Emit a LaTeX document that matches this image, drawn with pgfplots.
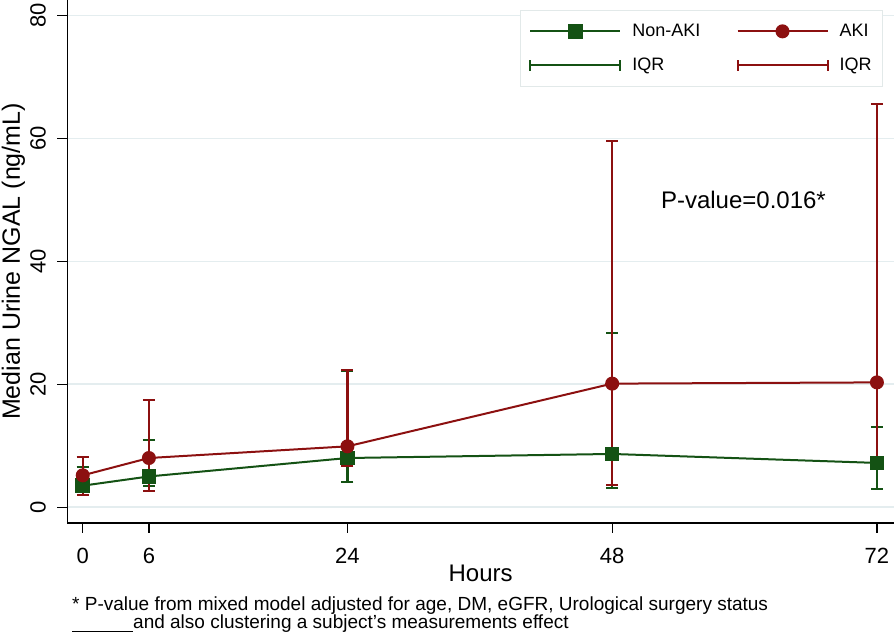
\documentclass[border=0pt]{standalone}
\usepackage{fontspec}
\setmainfont{Liberation Sans}
\usepackage{pgfplots}
\usepackage{pgfplotstable}
\pgfplotsset{compat=1.18}
\definecolor{mygreen}{HTML}{145214}
\definecolor{myred}{HTML}{8C1010}
\definecolor{gridc}{HTML}{E4EDEF}
\definecolor{legc}{HTML}{E2E9E9}
% hours, median, q3-median, median-q1
\pgfplotstableread{
x  y     ep     em
0  3.5   2.98   1.0
6  5.0   5.9    1.6
24 8.0   14.2   3.95
48 8.66  19.64  5.53
72 7.2   5.8    4.24
}\nonaki
\pgfplotstableread{
x  y     ep     em
0  5.18  3.0    3.14
6  8.0   9.5    5.43
24 9.9   12.4   3.15
48 20.1  39.4   16.55
72 20.3  45.3   13.9
}\aki
\begin{document}
\begin{tikzpicture}
\useasboundingbox (-67.3pt,-113pt) rectangle (826.7pt,523pt);
\begin{axis}[
  scale only axis, width=826.7pt, height=523pt,
  at={(0pt,0pt)}, anchor=south west,
  xmin=-1.4, xmax=73.55, ymin=-2.57, ymax=82.5,
  axis x line*=bottom, axis y line*=left,
  axis line style={line width=1.3pt, black, -},
  xtick={0,6,24,48,72}, ytick={0,20,40,60,80},
  tick align=outside, major tick length=10pt,
  tick style={line width=1.3pt, black},
  /pgf/number format/assume math mode=true,
  ticklabel style={font=\fontsize{22pt}{26pt}\selectfont},
  xticklabel style={yshift=-12pt},
  yticklabel style={rotate=90, anchor=south, yshift=8pt},
  ymajorgrids, major grid style={gridc, line width=1.5pt},
  xlabel={Hours}, ylabel={Median Urine NGAL (ng/mL)},
  every axis x label/.style={at={(axis description cs:0.5,0)}, anchor=base, yshift=-59pt, font=\fontsize{24pt}{28pt}\selectfont},
  every axis y label/.style={at={(axis description cs:0,0.5)}, anchor=center, xshift=-54pt, rotate=90, font=\fontsize{25pt}{30pt}\selectfont},
  legend columns=2, transpose legend,
  legend style={at={(0.9867,0.981)}, anchor=north east, draw=legc, line width=1pt,
    font=\fontsize{18pt}{22pt}\selectfont, inner xsep=9pt, inner ysep=12pt,
    row sep=16pt,
    /tikz/every odd column/.append style={column sep=9pt},
    /tikz/every even column/.append style={column sep=34pt}},
  legend cell align=left,
]
% Non-AKI median
\addplot[mygreen, line width=2pt, mark=square*, mark size=6.3pt, mark options={solid},
  legend image code/.code={\draw[mark repeat=2,mark phase=2] plot coordinates {(0pt,0pt) (45pt,0pt) (90pt,0pt)};}]
  table[x=x, y=y] {\nonaki};
\addlegendentry{Non-AKI}
% Non-AKI IQR
\addplot[mygreen, line width=2.2pt, only marks, mark=none,
  legend image code/.code={\draw[draw=mygreen, line width=2pt] (0pt,0pt) -- (90pt,0pt) (0pt,-5.5pt) -- (0pt,5.5pt) (90pt,-5.5pt) -- (90pt,5.5pt);},
  error bars/.cd, y dir=both, y explicit,
  error bar style={draw=mygreen, line width=2.2pt, solid},
  error mark options={rotate=90, draw=mygreen, line width=2.2pt, mark size=6pt}]
  table[x=x, y=y, y error plus=ep, y error minus=em] {\nonaki};
\addlegendentry{IQR}
% AKI median
\addplot[myred, line width=2pt, mark=*, mark size=6pt, mark options={solid},
  legend image code/.code={\draw[mark repeat=2,mark phase=2] plot coordinates {(0pt,0pt) (45pt,0pt) (90pt,0pt)};}]
  table[x=x, y=y] {\aki};
\addlegendentry{AKI}
% AKI IQR
\addplot[myred, line width=2.2pt, only marks, mark=none,
  legend image code/.code={\draw[draw=myred, line width=2pt] (0pt,0pt) -- (90pt,0pt) (0pt,-5.5pt) -- (0pt,5.5pt) (90pt,-5.5pt) -- (90pt,5.5pt);},
  error bars/.cd, y dir=both, y explicit,
  error bar style={draw=myred, line width=2.2pt, solid},
  error mark options={rotate=90, draw=myred, line width=2.2pt, mark size=6pt}]
  table[x=x, y=y, y error plus=ep, y error minus=em] {\aki};
\addlegendentry{IQR}
\node[anchor=base, font=\fontsize{24pt}{28pt}\selectfont] at (axis cs:59.9,48.6) {P-value=0.016*};
\end{axis}
\node[anchor=base west, inner sep=0pt, align=left, font=\fontsize{19pt}{18pt}\selectfont] at (4.7pt,-106pt) {* P-value from mixed model adjusted for age, DM, eGFR, Urological surgery status\\\rule[-3pt]{61pt}{1.3pt}and also clustering a subject's measurements effect};
\end{tikzpicture}
\end{document}
